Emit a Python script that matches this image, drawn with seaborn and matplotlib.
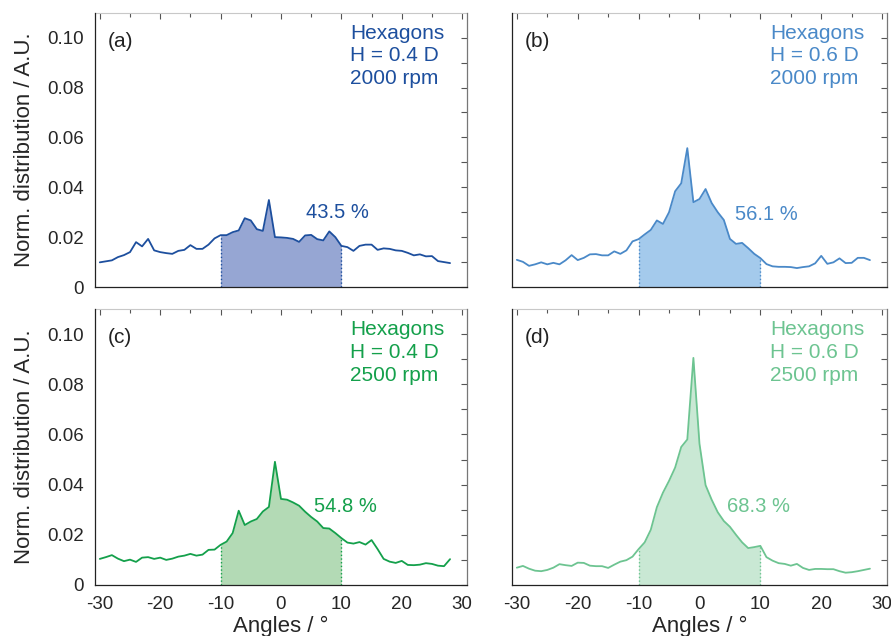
import numpy as np
import pandas as pd
import matplotlib
matplotlib.use("Agg")
import matplotlib.pyplot as plt
import seaborn as sns

# angles, 1 degree steps
angles = list(range(-30, 29))

dist_a = [0.0099, 0.0103, 0.0107, 0.0120, 0.0128, 0.0140, 0.0180, 0.0163, 0.0193, 0.0147,
          0.0140, 0.0136, 0.0133, 0.0145, 0.0149, 0.0168, 0.0153, 0.0153, 0.0170, 0.0195,
          0.0208, 0.0208, 0.0220, 0.0227, 0.0276, 0.0267, 0.0232, 0.0225, 0.0349, 0.0200,
          0.0199, 0.0197, 0.0193, 0.0181, 0.0207, 0.0209, 0.0192, 0.0187, 0.0223, 0.0200,
          0.0165, 0.0160, 0.0145, 0.0165, 0.0170, 0.0170, 0.0149, 0.0155, 0.0153, 0.0147,
          0.0145, 0.0137, 0.0127, 0.0131, 0.0123, 0.0124, 0.0104, 0.0100, 0.0096]

dist_b = [0.0109, 0.0101, 0.0085, 0.0091, 0.0099, 0.0091, 0.0097, 0.0091, 0.0107, 0.0128,
          0.0108, 0.0117, 0.0131, 0.0132, 0.0127, 0.0127, 0.0143, 0.0133, 0.0147, 0.0183,
          0.0192, 0.0211, 0.0229, 0.0267, 0.0253, 0.0300, 0.0384, 0.0416, 0.0557, 0.0340,
          0.0353, 0.0393, 0.0337, 0.0300, 0.0269, 0.0193, 0.0173, 0.0177, 0.0156, 0.0133,
          0.0116, 0.0092, 0.0083, 0.0081, 0.0081, 0.0080, 0.0076, 0.0080, 0.0083, 0.0095,
          0.0125, 0.0093, 0.0099, 0.0115, 0.0096, 0.0097, 0.0117, 0.0117, 0.0108]

dist_c = [0.0104, 0.0111, 0.0119, 0.0105, 0.0095, 0.0101, 0.0092, 0.0109, 0.0111, 0.0104,
          0.0109, 0.0100, 0.0105, 0.0113, 0.0117, 0.0124, 0.0117, 0.0121, 0.0140, 0.0141,
          0.0160, 0.0173, 0.0207, 0.0296, 0.0239, 0.0253, 0.0263, 0.0293, 0.0311, 0.0491,
          0.0343, 0.0340, 0.0329, 0.0316, 0.0292, 0.0271, 0.0253, 0.0227, 0.0225, 0.0207,
          0.0187, 0.0169, 0.0165, 0.0171, 0.0161, 0.0179, 0.0143, 0.0104, 0.0093, 0.0088,
          0.0096, 0.0080, 0.0079, 0.0081, 0.0087, 0.0084, 0.0077, 0.0075, 0.0103]

dist_d = [0.0069, 0.0076, 0.0065, 0.0057, 0.0055, 0.0060, 0.0069, 0.0083, 0.0079, 0.0076,
          0.0089, 0.0088, 0.0077, 0.0075, 0.0075, 0.0068, 0.0081, 0.0093, 0.0099, 0.0113,
          0.0143, 0.0170, 0.0220, 0.0310, 0.0368, 0.0415, 0.0468, 0.0550, 0.0580, 0.0905,
          0.0563, 0.0398, 0.0340, 0.0290, 0.0255, 0.0232, 0.0200, 0.0170, 0.0147, 0.0151,
          0.0156, 0.0111, 0.0097, 0.0087, 0.0084, 0.0077, 0.0084, 0.0068, 0.0060, 0.0064,
          0.0064, 0.0063, 0.0063, 0.0055, 0.0049, 0.0051, 0.0055, 0.0060, 0.0065]

panel_ids = ["(a)", "(b)", "(c)", "(d)"]
heights = ["0.4", "0.6", "0.4", "0.6"]
speeds = ["2000", "2000", "2500", "2500"]
percent = ["43.5 %", "56.1 %", "54.8 %", "68.3 %"]
pct_pos = [(4.1, 0.0297), (5.9, 0.0289), (5.4, 0.0311), (4.5, 0.0311)]

line_colors = ["#1d4f9e", "#4a89c8", "#14a04b", "#6dc491"]
fill_colors = ["#96a6d3", "#a4caec", "#b3dab5", "#c9e8d4"]

df = pd.DataFrame({
    "angle": angles * 4,
    "dist": dist_a + dist_b + dist_c + dist_d,
    "panel": np.repeat(panel_ids, len(angles)),
})

sns.set_style("white")
plt.rcParams["font.family"] = ["Liberation Sans", "DejaVu Sans"]
plt.rcParams["axes.unicode_minus"] = False

fig = plt.figure(figsize=(8.91, 6.36), dpi=100)
boxes = [
    [0.1066, 0.5487, 0.4175, 0.4313],
    [0.5746, 0.5487, 0.4209, 0.4313],
    [0.1066, 0.0802, 0.4175, 0.4340],
    [0.5746, 0.0802, 0.4209, 0.4340],
]

def yfmt(v, pos):
    return "0" if abs(v) < 1e-9 else f"{v:.2f}"

for i, pid in enumerate(panel_ids):
    ax = fig.add_axes(boxes[i])
    sub = df[df["panel"] == pid]
    lc, fc = line_colors[i], fill_colors[i]

    mask = (sub["angle"] >= -10) & (sub["angle"] <= 10)
    ax.fill_between(sub["angle"][mask], 0, sub["dist"][mask], color=fc, lw=0, zorder=1)
    sns.lineplot(data=sub, x="angle", y="dist", ax=ax, color=lc, lw=1.3, zorder=3)
    for edge in (-10, 10):
        yv = sub.loc[sub["angle"] == edge, "dist"].values[0]
        ax.plot([edge, edge], [0, yv], color=lc, lw=1.0, ls=":", zorder=2)

    ax.set_xlim(-30.8, 30.8)
    ax.set_ylim(0, 0.11)
    ax.set_xticks(range(-30, 31, 10))
    ax.set_xticks(range(-25, 30, 10), minor=True)
    ax.set_yticks(np.arange(0, 0.101, 0.02))
    ax.set_yticks(np.arange(0.01, 0.11, 0.02), minor=True)
    ax.yaxis.set_major_formatter(plt.FuncFormatter(yfmt))
    ax.tick_params(which="major", direction="out", length=6, width=0.8,
                   labelsize=13.5, color="#222222", pad=2)
    ax.tick_params(which="minor", direction="out", length=3.5, width=0.8, color="#222222")
    for s in ("top", "right"):
        ax.spines[s].set_visible(False)
    for s in ("left", "bottom"):
        ax.spines[s].set_color("#222222")
        ax.spines[s].set_linewidth(0.9)

    top = ax.secondary_xaxis("top")
    top.set_xticks(range(-30, 31, 10))
    top.set_xticks(range(-25, 30, 10), minor=True)
    top.tick_params(which="both", direction="in", labeltop=False, width=0.8, color="#555555")
    top.tick_params(which="major", length=4)
    top.tick_params(which="minor", length=3)
    top.spines["top"].set_color("#c8c8c8")
    top.spines["top"].set_linewidth(0.8)

    right = ax.secondary_yaxis("right")
    right.set_yticks(np.arange(0, 0.101, 0.01))
    right.tick_params(which="both", direction="in", labelright=False, length=4,
                      width=0.8, color="#555555")
    right.spines["right"].set_color("#777777")
    right.spines["right"].set_linewidth(0.9)

    ax.set_xlabel("Angles / °" if i >= 2 else "", fontsize=16, labelpad=2)
    ax.set_ylabel("Norm. distribution / A.U." if i % 2 == 0 else "", fontsize=16, labelpad=9)
    if i % 2 == 1:
        ax.tick_params(axis="y", which="both", labelleft=False)
    if i < 2:
        ax.tick_params(axis="x", which="both", labelbottom=False)

    ax.text(0.035, 0.895, pid, transform=ax.transAxes, fontsize=15,
            ha="left", va="center", color="#222222")
    ax.text(0.94, 0.96, f"Hexagons\nH = {heights[i]} D\n{speeds[i]} rpm",
            transform=ax.transAxes, fontsize=15, ha="right", va="top",
            multialignment="left", color=lc, linespacing=1.25)
    ax.text(pct_pos[i][0], pct_pos[i][1], percent[i], fontsize=14.5,
            ha="left", va="center", color=lc)

fig.savefig("out.png", dpi=100)
